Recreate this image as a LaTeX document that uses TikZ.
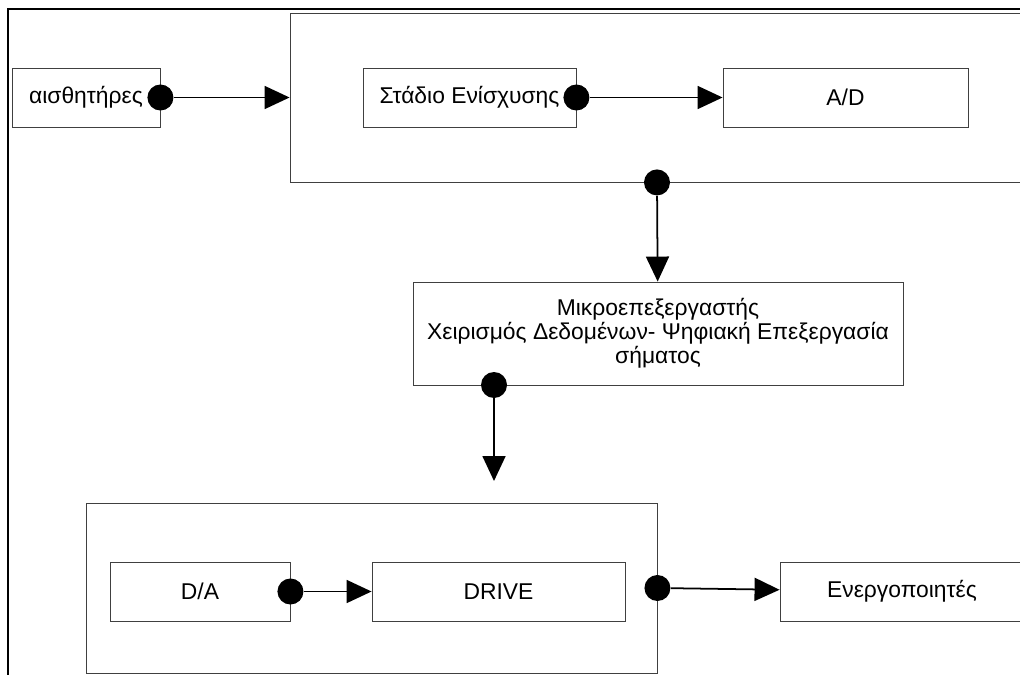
\documentclass[tikz,border=0pt]{standalone}
\usepackage{fontspec}
\setmainfont{Liberation Sans}
\usetikzlibrary{arrows.meta}

\begin{document}
\begin{tikzpicture}[x=0.2mm,y=-0.2mm,>={Triangle[length=5mm,width=4.6mm]},
	block/.style={rectangle,draw=black!75,line width=0.5pt,inner sep=0pt,minimum height=11.8mm,font=\fontsize{13}{13.8}\selectfont},
	group/.style={rectangle,draw=black!75,line width=0.5pt,inner sep=0pt},
	joint/.style={circle,fill=black,inner sep=0pt,minimum width=5.2mm,minimum height=4.9mm},
	link/.style={line width=1pt}]

\clip (0,0) rectangle (1020,675);
\draw[line width=0.5mm] (8,690) -- (8,9) -- (1040,9);

\node[group,minimum width=146.8mm,minimum height=33.8mm] (amp) at (657,97.5) {};
\node[group,minimum width=114.2mm,minimum height=34mm]   (out) at (371.5,588) {};

\node[block,minimum width=29.6mm]   (sens)  at (86,97.5)    {αισθητήρες};
\node[block,minimum width=42.6mm]   (stage) at (469.5,97.5) {Στάδιο Ενίσχυσης};
\node[block,minimum width=49mm]     (adc)   at (845.5,97.5) {A/D};
\node[block,minimum width=98mm,minimum height=20.6mm,align=center] (mcu) at (658,333.5)
	{Μικροεπεξεργαστής\\Χειρισμός Δεδομένων- Ψηφιακή Επεξεργασία\\σήματος};
\node[block,minimum width=36mm]     (dac)   at (200,591.5)  {D/A};
\node[block,minimum width=50.6mm]   (drive) at (498.5,591.5) {DRIVE};
\node[block,minimum width=48.8mm]   (act)   at (902,591.5)  {Ενεργοποιητές};

\node[joint] (d1) at (sens.east)  {};
\node[joint] (d2) at (stage.east) {};
\node[joint] (d3) at (amp.south)  {};
\node[joint] (d4) at (494,385)    {};
\node[joint] (d5) at (dac.east)   {};
\node[joint] (d6) at (out.east)   {};
\coordinate (gap) at (494,481);

	\path[->,link] (d1) edge (amp)
		(d2) edge (adc)
		(d3) edge (mcu)
		(d4) edge (gap)
		(d5) edge (drive)
		(d6) edge (act);

\end{tikzpicture}
\end{document}
